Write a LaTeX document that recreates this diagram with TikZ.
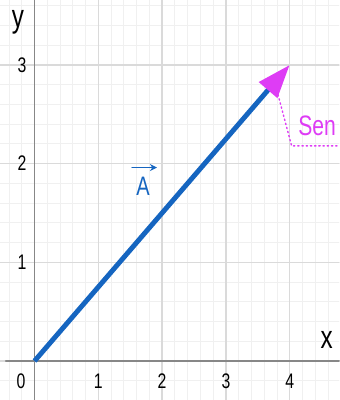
\documentclass[tikz,border=0pt]{standalone}
\usepackage{fontspec}
\setmainfont{Liberation Sans}[FakeStretch=0.75]
\usetikzlibrary{arrows.meta}
\definecolor{vecblue}{RGB}{21,101,192}
\definecolor{senmag}{RGB}{222,60,245}
\definecolor{gridmaj}{RGB}{218,218,218}
\definecolor{gridmin}{RGB}{240,240,240}
\definecolor{axisgray}{RGB}{135,135,135}
\begin{document}
\begin{tikzpicture}[x=1.595cm, y=2.4675cm, line cap=round, line join=round, font=\fontsize{15}{15}\selectfont]
% Frame (same proportions as the reference)
\useasboundingbox (-0.541,-0.395) rectangle (4.773,3.658);
% Grid
\draw[gridmin, line width=0.6pt] (-0.541,-0.395) grid[step=0.2] (4.773,3.658);
\draw[gridmaj, line width=0.9pt] (-0.541,-0.395) grid[step=1] (4.773,3.658);
% Axes
\draw[axisgray, line width=1.4pt] (-0.45,0) -- (4.773,0);
\draw[axisgray, line width=1.4pt] (0,-0.395) -- (0,3.658);
\node (xlab) at (4.58,0.213) {\fontsize{23}{23}\selectfont x};
\node (ylab) at (-0.26,3.435) {\fontsize{23}{23}\selectfont y};
% Tick labels
\node (x0) at (-0.21,-0.203) {0};
\foreach \i in {1,...,4}
  \node (x\i) at (\i,-0.203) {\i};
\foreach \j in {1,2,3}
  \node (y\j) at (-0.196,\j) {\j};
% Vector A
\coordinate (O) at (0,0);
\coordinate (P) at (4,3);
\draw[vecblue, line width=3.5pt, line cap=butt,
  -{Triangle[color=senmag, length=0.83cm, width=0.58cm]}] (O) -- (P);
\node[vecblue, font=\fontsize{19}{19}\selectfont] (A) at (1.70,1.77) {A};
\draw[vecblue, line width=1.2pt, -{Stealth[length=5pt, width=5pt]}]
  ([shift={(-0.17,0.19)}]A.center) -- ([shift={(0.22,0.19)}]A.center);
% Sense marker
\coordinate (S1) at (3.80,2.74);
\coordinate (S2) at (4.03,2.18);
\coordinate (S3) at (4.773,2.18);
\draw[senmag, line width=1pt, dotted] (S1) -- (S2) -- (S3);
\node[senmag, anchor=base west, inner sep=0pt, font=\fontsize{20}{20}\selectfont] (sen) at (4.13,2.29) {Sen};
\end{tikzpicture}
\end{document}
